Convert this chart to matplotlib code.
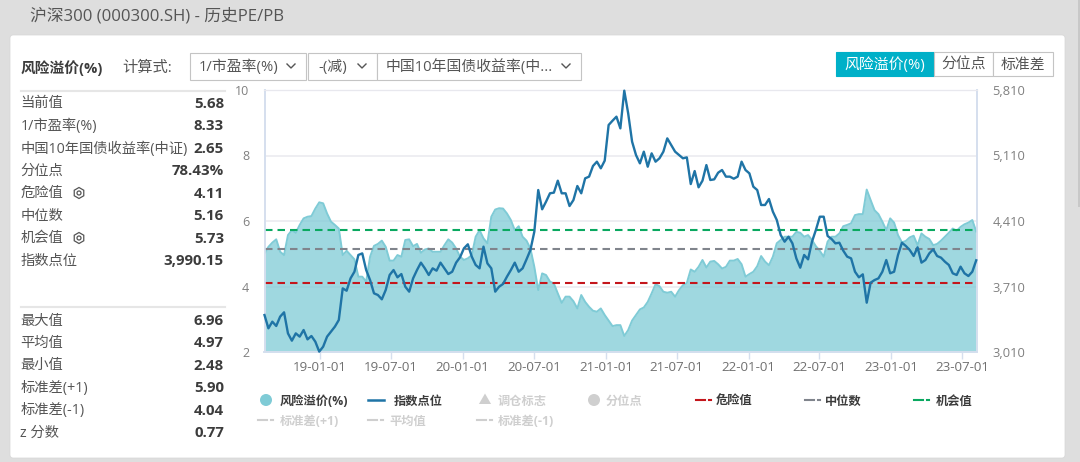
"""
CSI 300 risk premium page: stats panel on the left, history chart on the right.
"""
import math
import pandas as pd
import matplotlib
matplotlib.use("Agg")
import matplotlib.pyplot as plt
import matplotlib.dates as mdates
from matplotlib.patches import Circle, FancyBboxPatch, Rectangle, RegularPolygon
from matplotlib.ticker import FuncFormatter

plt.rcParams["font.family"] = ["Open Sans", "Noto Sans CJK SC", "DejaVu Sans"]

# series, one reading every ten days
risk_premium = [
    5.01, 5.21, 5.34, 5.44, 5.06, 4.96, 5.57, 5.72, 5.64, 5.88, 6.08, 6.13, 6.15, 6.38, 6.57, 6.54,
    6.23, 5.98, 5.88, 5.77, 4.96, 5.09, 4.96, 4.83, 4.30, 4.30, 4.15, 4.91, 5.24, 5.30, 5.40, 5.21,
    4.79, 4.79, 4.96, 4.91, 5.42, 5.44, 5.23, 5.30, 5.03, 5.13, 5.16, 5.06, 5.06, 5.06, 5.26, 5.44,
    5.34, 5.16, 4.91, 4.81, 4.86, 4.96, 5.52, 5.72, 5.47, 5.32, 6.13, 6.35, 6.39, 6.38, 6.23, 6.03,
    5.72, 5.84, 5.52, 5.40, 5.16, 4.60, 3.89, 4.40, 4.35, 4.15, 4.09, 3.79, 3.50, 3.69, 3.69, 3.55,
    3.33, 3.74, 3.53, 3.38, 3.26, 3.23, 3.33, 3.13, 2.96, 2.79, 2.82, 2.82, 2.49, 2.67, 2.96, 3.13,
    3.30, 3.36, 3.53, 3.79, 4.07, 4.01, 3.84, 3.81, 3.84, 3.69, 3.89, 4.04, 4.11, 4.52, 4.45, 4.60,
    4.81, 4.58, 4.76, 4.78, 4.68, 4.55, 4.60, 4.79, 4.79, 4.84, 4.68, 4.30, 4.38, 4.45, 4.62, 4.93,
    4.76, 4.65, 4.91, 5.32, 5.42, 5.52, 5.52, 5.52, 5.67, 5.64, 5.52, 5.57, 5.42, 5.23, 5.09, 4.91,
    5.37, 5.52, 5.52, 5.62, 5.84, 5.88, 5.93, 6.18, 6.21, 6.21, 6.96, 6.64, 6.33, 6.21, 5.98, 5.72,
    6.08, 5.95, 5.57, 5.35, 5.39, 5.50, 5.55, 5.26, 5.62, 5.52, 5.45, 5.26, 5.30, 5.40, 5.52, 5.64,
    5.77, 5.70, 5.82, 5.90, 5.95, 6.03, 5.68,
]
index_points = [
    3405, 3263, 3334, 3288, 3388, 3434, 3209, 3131, 3209, 3174, 3245, 3145, 3181, 3120, 3014, 3067,
    3174, 3227, 3281, 3352, 3690, 3665, 3797, 3868, 4047, 4064, 3886, 3779, 3637, 3619, 3573, 3673,
    3833, 3886, 3808, 3843, 3708, 3655, 3797, 3886, 3965, 3904, 3833, 3904, 3879, 3965, 3904, 3843,
    3868, 3965, 4022, 4118, 4161, 4029, 3940, 3904, 4136, 3957, 3904, 3655, 3708, 3737, 3815, 3886,
    3965, 3868, 3904, 4000, 4100, 4296, 4741, 4535, 4617, 4706, 4713, 4841, 4706, 4706, 4570, 4634,
    4784, 4706, 4866, 4884, 4998, 5044, 4973, 5055, 5436, 5482, 5525, 5400, 5803, 5560, 5258, 5115,
    5026, 5151, 4990, 5133, 5044, 5080, 5151, 5293, 5222, 5151, 5115, 5080, 5090, 4805, 4944, 4770,
    4841, 5008, 4848, 4855, 4926, 4955, 4884, 4884, 4862, 4884, 5044, 4955, 4919, 4777, 4741, 4581,
    4581, 4645, 4510, 4421, 4260, 4189, 4242, 4171, 4011, 3911, 4047, 4000, 4189, 4314, 4456, 4456,
    4250, 4218, 4171, 4178, 4093, 4029, 4011, 3868, 3808, 3840, 3537, 3751, 3779, 3797, 3868, 3993,
    3851, 3868, 4047, 4178, 4143, 4100, 4036, 4129, 3965, 3993, 4064, 4107, 4036, 4018, 3975, 3940,
    3851, 3833, 3922, 3851, 3822, 3868, 3990,
]
danger_value = 4.11
median_value = 5.16
chance_value = 5.73

left_ticks = [2, 4, 6, 8, 10]
right_ticks = [3010, 3710, 4410, 5110, 5810]
date_ticks = ["2019-01-01", "2019-07-01", "2020-01-01", "2020-07-01", "2021-01-01",
              "2021-07-01", "2022-01-01", "2022-07-01", "2023-01-01", "2023-07-01"]

stats_top = [("当前值", "5.68"), ("1/市盈率(%)", "8.33"), ("中国10年国债收益率(中证)", "2.65"),
             ("分位点", "78.43%"), ("危险值", "4.11"), ("中位数", "5.16"),
             ("机会值", "5.73"), ("指数点位", "3,990.15")]
stats_bottom = [("最大值", "6.96"), ("平均值", "4.97"), ("最小值", "2.48"),
                ("标准差(+1)", "5.90"), ("标准差(-1)", "4.04"), ("z 分数", "0.77")]

W, H = 1080, 462
GREY = "#dedede"
TEXT = "#555555"
DARK = "#3c3c3c"
TEAL = "#00b0c8"
LINE_BLUE = "#1f74a6"
AREA = "#7fcbd6"
RED = "#c4161c"
MID_GREY = "#80848c"
GREEN = "#0aa860"
PALE = "#cfcfcf"

fig = plt.figure(figsize=(W / 100, H / 100), dpi=100, facecolor=GREY)

# page furniture is drawn in pixel coordinates
page = fig.add_axes([0, 0, 1, 1])
page.set_xlim(0, W)
page.set_ylim(H, 0)
page.axis("off")

page.text(30, 16, "沪深300 (000300.SH) - 历史PE/PB", fontsize=12.1, color=TEXT, va="center")
page.add_patch(Rectangle((1078, 0), 2, 207, fc="#c8c8c8", ec="none"))
page.add_patch(FancyBboxPatch((13, 38), 1049, 417, boxstyle="round,pad=3", fc="white", ec="#d6d6d6", lw=0.5))

page.text(20.5, 68, "风险溢价(%)", fontsize=10.6, weight="bold", color=DARK, va="center")
page.text(122.5, 68, "计算式:", fontsize=11, color=TEXT, va="center")


def chevron(x, y):
    page.plot([x - 4, x, x + 4], [y - 2, y + 2, y - 2], color=TEXT, lw=1)


for x0, x1, label, text_x in [(190, 306, "1/市盈率(%)", 199),
                              (308, 377, "-(减)", 318),
                              (377, 581, "中国10年国债收益率(中...", 386)]:
    page.add_patch(Rectangle((x0, 52.5), x1 - x0, 27, fc="white", ec="#c4c4c4", lw=0.8))
    page.text(text_x, 67.5, label, fontsize=10.7, color=TEXT, va="center")
    chevron(x1 - 15, 66)

for x0, x1, label, active in [(836, 934, "风险溢价(%)", True),
                              (934, 993, "分位点", False),
                              (993, 1053, "标准差", False)]:
    page.add_patch(Rectangle((x0, 52), x1 - x0, 24, fc=TEAL if active else "white",
                             ec=TEAL if active else "#c4c4c4", lw=0.8))
    page.text((x0 + x1) / 2, 65, label, fontsize=10.7, color="white" if active else TEXT,
              ha="center", va="center")

# stats panel
page.plot([21, 225], [91, 91], color="#e6e6e6", lw=1.5)
page.plot([21, 225], [307, 307], color="#e6e6e6", lw=1.5)
for rows, y0 in [(stats_top, 104), (stats_bottom, 321)]:
    for i, (name, value) in enumerate(rows):
        y = y0 + i * 22.45
        page.text(20.5, y, name, fontsize=10.3, color=TEXT, va="center")
        page.text(224, y, value, fontsize=10.8, weight="bold", color=DARK, ha="right", va="center")

for y in [193, 238]:
    page.add_patch(RegularPolygon((79, y), 6, radius=5.5, fc="white", ec=TEXT, lw=0.9))
    page.add_patch(Circle((79, y), 2, fc="white", ec=TEXT, lw=0.9))

# legend, laid out by hand like the page does
for x, label, color in [(280, "风险溢价(%)", DARK), (394, "指数点位", DARK), (498, "调仓标志", PALE),
                        (606, "分位点", PALE), (716, "危险值", DARK), (825, "中位数", DARK),
                        (936, "机会值", DARK)]:
    page.text(x, 401.5, label, fontsize=8.8, weight="bold", color=color, va="center")
for x, label in [(280, "标准差(+1)"), (389, "平均值"), (498, "标准差(-1)")]:
    page.text(x, 421.5, label, fontsize=8.8, weight="bold", color=PALE, va="center")

page.add_patch(Circle((266, 400), 6, fc=AREA, ec="none"))
page.plot([368, 384], [400, 400], color=LINE_BLUE, lw=1.8)
page.add_patch(RegularPolygon((485, 400.5), 3, radius=7, orientation=math.pi, fc=PALE, ec="none"))
page.add_patch(Circle((594, 400), 6, fc=PALE, ec="none"))
for x, y, color in [(696, 400, RED), (805, 400, MID_GREY), (914, 400, GREEN),
                    (258, 420, PALE), (368, 420, PALE), (477, 420, PALE)]:
    page.plot([x, x + 9], [y, y], color=color, lw=1.5)
    page.plot([x + 13, x + 15], [y, y], color=color, lw=1.5)

# chart
ax = fig.add_axes([264.5 / W, (H - 352) / H, 712.5 / W, 262 / H])
ax.patch.set_alpha(0)
dates = pd.date_range("2018-08-12", periods=len(risk_premium), freq="10D")

ax.fill_between(dates, risk_premium, 2, color=AREA, alpha=0.75, lw=0, zorder=2)
ax.plot(dates, risk_premium, color=AREA, lw=1.4, zorder=3)
for value, color in [(danger_value, RED), (median_value, MID_GREY), (chance_value, GREEN)]:
    ax.axhline(value, color=color, lw=1.5, dashes=(3.6, 2.4), zorder=4)

ax.set_xlim(dates[0], dates[0] + pd.Timedelta(days=1822))
ax.set_ylim(2, 10)
ax.set_yticks(left_ticks)
ax.grid(axis="y", color="#ebebf0", lw=1.2, zorder=1)
ax.set_axisbelow(True)
ax.set_xticks(pd.to_datetime(date_ticks))
ax.xaxis.set_major_formatter(mdates.DateFormatter("%y-%m-%d"))
ax.tick_params(axis="x", length=5, width=1, color="#d5dfee", labelsize=9.6, labelcolor="#707070", pad=1.5)
ax.tick_params(axis="y", length=0, labelsize=9, labelcolor="#808080", pad=11)

ax2 = ax.twinx()
ax2.plot(dates, index_points, color=LINE_BLUE, lw=1.7, zorder=5, clip_on=False)
ax2.set_ylim(3010, 5810)
ax2.set_yticks(right_ticks)
ax2.yaxis.set_major_formatter(FuncFormatter(lambda v, _: f"{int(v):,}"))
ax2.tick_params(axis="y", length=0, labelsize=9.3, labelcolor="#808080", pad=11)

for a in (ax, ax2):
    a.spines["top"].set_color("#e8e8ee")
    for side in ("left", "right", "bottom"):
        a.spines[side].set_color("#d5dfee")
        a.spines[side].set_linewidth(1.2)

fig.savefig("out.png", dpi=100, facecolor=fig.get_facecolor())
plt.close(fig)
